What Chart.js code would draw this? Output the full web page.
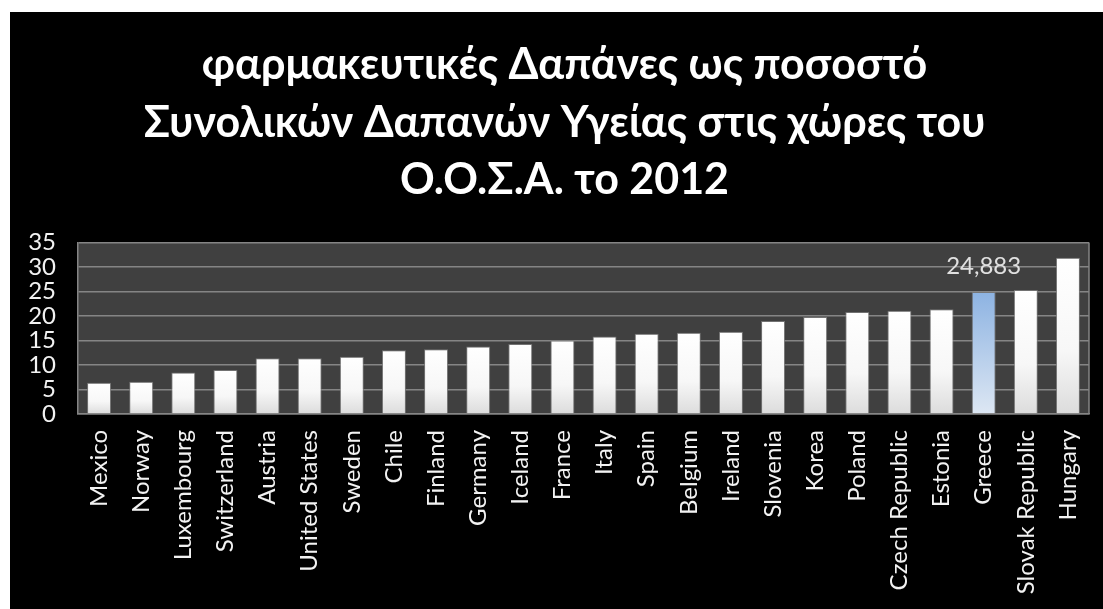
<!DOCTYPE html>
<html>
<head>
<meta charset="utf-8">
<script src="https://cdn.jsdelivr.net/npm/chart.js@4/dist/chart.umd.min.js"></script>
<style>
  html, body { margin: 0; padding: 0; background: #fff; }
  #wrap { position: absolute; left: 10px; top: 12px; width: 1093px; height: 597px; background: #000; }
</style>
</head>
<body>
<div id="wrap"><canvas id="pharmaChart"></canvas></div>
<script>
// Pharmaceutical spending as % of total health spending, OECD 2012
const countries = ['Mexico', 'Norway', 'Luxembourg', 'Switzerland', 'Austria', 'United States', 'Sweden', 'Chile',
    'Finland', 'Germany', 'Iceland', 'France', 'Italy', 'Spain', 'Belgium', 'Ireland', 'Slovenia', 'Korea',
    'Poland', 'Czech Republic', 'Estonia', 'Greece', 'Slovak Republic', 'Hungary'];
const shares = [6.4, 6.6, 8.45, 9.0, 11.4, 11.4, 11.7, 13.0, 13.2, 13.8, 14.3, 15.0, 15.8, 16.4, 16.6, 16.8,
    19.0, 19.8, 20.8, 21.1, 21.4, 24.883, 25.3, 31.9];
const highlighted = 'Greece';
const yMax = 35;
const yStep = 5;

const titleLines = [
    'φαρμακευτικές Δαπάνες ως ποσοστό',
    'Συνολικών Δαπανών Υγείας στις χώρες του',
    'Ο.Ο.Σ.Α. το 2012'
];

const FONT = "Lato, 'Open Sans', sans-serif";

function barFill(ctx) {
    const chart = ctx.chart;
    const hi = countries[ctx.dataIndex] === highlighted;
    if (!chart.chartArea || ctx.type !== 'data') return hi ? '#b9cde9' : '#f0f0f0';
    const y = chart.scales.y;
    const top = y.getPixelForValue(shares[ctx.dataIndex]);
    const bottom = y.getPixelForValue(0);
    const g = chart.ctx.createLinearGradient(0, top, 0, bottom);
    if (hi) {
        g.addColorStop(0, '#8db3e2');
        g.addColorStop(1, '#dde7f3');
    } else {
        g.addColorStop(0, '#ffffff');
        g.addColorStop(0.6, '#f7f7f7');
        g.addColorStop(1, '#dcdcdc');
    }
    return g;
}

// dark plot area + right frame line; title nudged a bit right of canvas centre
const plotFrame = {
    id: 'plotFrame',
    afterLayout(chart) {
        if (chart.titleBlock) chart.titleBlock.left += 30;
    },
    beforeDraw(chart) {
        const { ctx, chartArea: a } = chart;
        ctx.save();
        ctx.fillStyle = '#404040';
        ctx.fillRect(a.left, a.top, a.right - a.left, a.bottom - a.top);
        ctx.restore();
    },
    afterDraw(chart) {
        const { ctx, chartArea: a } = chart;
        ctx.save();
        ctx.strokeStyle = '#858585';
        ctx.lineWidth = 1.5;
        ctx.beginPath();
        ctx.moveTo(a.right, a.top);
        ctx.lineTo(a.right, a.bottom);
        ctx.stroke();
        ctx.restore();
    }
};

// value label above the highlighted bar
const highlightLabel = {
    id: 'highlightLabel',
    afterDatasetsDraw(chart) {
        const i = countries.indexOf(highlighted);
        const bar = chart.getDatasetMeta(0).data[i];
        if (!bar) return;
        const ctx = chart.ctx;
        ctx.save();
        ctx.font = '24px ' + FONT;
        ctx.fillStyle = '#e0e0e0';
        ctx.textAlign = 'center';
        ctx.textBaseline = 'middle';
        ctx.fillText(String(shares[i]).replace('.', ','), bar.x, bar.y - 26);
        ctx.restore();
    }
};

new Chart(document.getElementById('pharmaChart'), {
    type: 'bar',
    data: {
        labels: countries,
        datasets: [{
            data: shares,
            backgroundColor: barFill,
            borderColor: 'rgba(120,120,120,0.9)',
            borderWidth: 1,
            categoryPercentage: 1,
            barPercentage: 0.57
        }]
    },
    options: {
        responsive: true,
        maintainAspectRatio: false,
        animation: false,
        layout: { padding: { left: 0, right: 14, top: 0, bottom: 0 } },
        plugins: {
            legend: { display: false },
            tooltip: { enabled: false },
            title: {
                display: true,
                text: titleLines,
                color: '#ffffff',
                font: { family: FONT, size: 43, weight: 'bold', lineHeight: 1.33 },
                padding: { top: 25, bottom: 34 }
            }
        },
        scales: {
            x: {
                grid: { display: false, drawTicks: false },
                border: { display: true, color: '#858585', width: 1.5 },
                ticks: {
                    color: '#f2f2f2',
                    font: { family: FONT, size: 24 },
                    minRotation: 90,
                    maxRotation: 90,
                    autoSkip: false,
                    padding: 16
                },
                afterFit(scale) {
                    scale.height = 195;
                    scale.paddingLeft = 0;
                    scale.paddingRight = 0;
                }
            },
            y: {
                min: 0,
                max: yMax,
                grid: { color: '#858585', lineWidth: 1.5, drawTicks: false },
                border: { display: true, color: '#858585', width: 1.5 },
                ticks: {
                    stepSize: yStep,
                    color: '#f2f2f2',
                    font: { family: FONT, size: 24, lineHeight: 0.8 },
                    padding: 22
                },
                afterFit(scale) { scale.width = 68; }
            }
        }
    },
    plugins: [plotFrame, highlightLabel]
});
</script>
</body>
</html>
